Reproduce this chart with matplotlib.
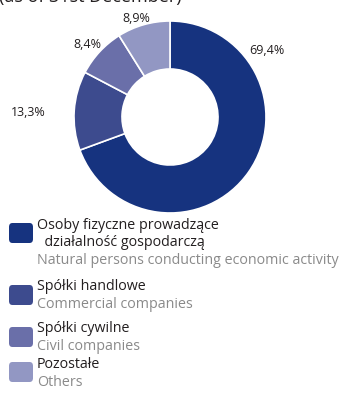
import matplotlib.pyplot as plt
from matplotlib.patches import FancyBboxPatch

# Structure of entities (as of 31st December), percent
shares = [69.4, 13.3, 8.4, 8.9]
share_labels = ['69,4%', '13,3%', '8,4%', '8,9%']
names_pl = ['Osoby fizyczne prowadzące\n  działalność gospodarczą', 'Spółki handlowe',
            'Spółki cywilne', 'Pozostałe']
names_en = ['Natural persons conducting economic activity', 'Commercial companies',
            'Civil companies', 'Others']
colors = ['#16337f', '#3d4b8e', '#6a6fa9', '#9297c3']

plt.rcParams['font.family'] = ['Open Sans', 'DejaVu Sans']

W, H = 345, 396
fig = plt.figure(figsize=(W / 100, H / 100), dpi=100)

def fx(x):
    return x / W

def fy(y):
    return 1 - y / H

# donut
cx, cy, r = 170, 117, 96
ax = fig.add_axes([fx(cx - r), fy(cy + r), 2 * r / W, 2 * r / H])
ax.pie(shares, colors=colors, startangle=90, counterclock=False, radius=1,
       wedgeprops=dict(width=0.5, edgecolor='white', linewidth=1.2))
ax.set_xlim(-1, 1)
ax.set_ylim(-1, 1)
ax.set_aspect('equal')
ax.axis('off')

# percentage labels
label_pos = [(267, 50), (28, 112), (87, 44), (136, 18)]
for lab, (x, y) in zip(share_labels, label_pos):
    fig.text(fx(x), fy(y), lab, ha='center', va='center', fontsize=9, color='#231f20')

# subtitle, cut at the top edge
fig.text(fx(182), fy(2), '(as of 31st December)', ha='right', va='baseline',
         fontsize=13, color='#231f20')

# legend
box_top = [223, 285, 327, 362]
pl_y = [[225, 243], [287], [328], [364]]
en_y = [261, 304, 346, 382]
for i in range(len(shares)):
    b = FancyBboxPatch((fx(9), fy(box_top[i] + 20)), fx(24), 20 / H,
                       boxstyle='round,pad=0,rounding_size=0.01',
                       transform=fig.transFigure, facecolor=colors[i], edgecolor='none')
    fig.patches.append(b)
    lines = names_pl[i].split('\n')
    for ln, y in zip(lines, pl_y[i]):
        fig.text(fx(37), fy(y), ln, ha='left', va='center', fontsize=10.3, color='#231f20')
    fig.text(fx(37), fy(en_y[i]), names_en[i], ha='left', va='center', fontsize=10.3,
             color='#8a8a8a')

fig.savefig('out.png', dpi=100)
